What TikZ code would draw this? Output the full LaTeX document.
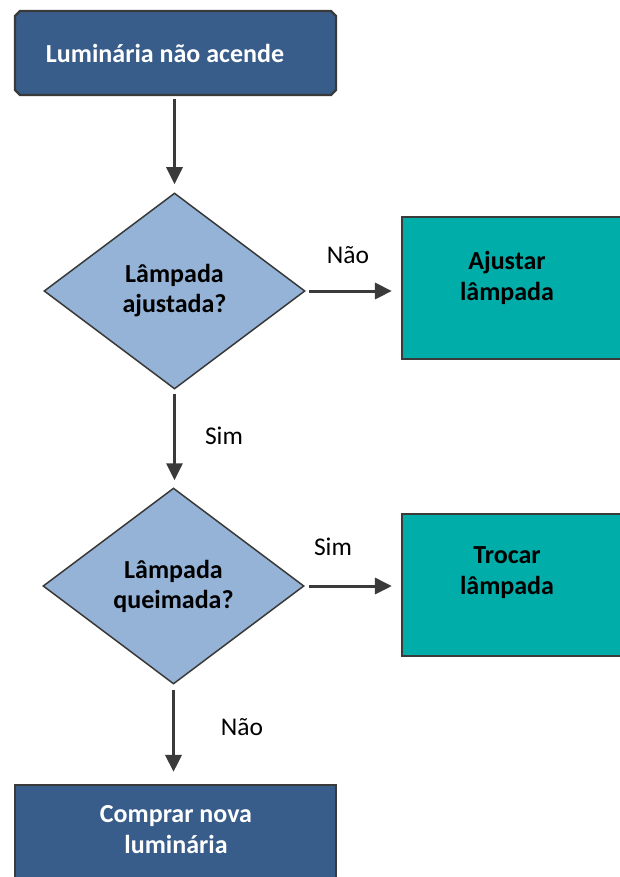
\documentclass[tikz,border=0pt]{standalone}
\usepackage{fontspec}
\setmainfont{Carlito}
\usetikzlibrary{arrows.meta,shapes.geometric,shapes.misc}
\definecolor{darkblue}{HTML}{385D8A}
\definecolor{lightblue}{HTML}{95B3D7}
\definecolor{tealbox}{HTML}{00ADA9}
\definecolor{edgecol}{HTML}{3A3A3A}
\begin{document}
\begin{tikzpicture}[x=1pt,y=-1pt,
 startbox/.style={chamfered rectangle, chamfered rectangle xsep=2.5pt, chamfered rectangle ysep=2.5pt, draw=edgecol, line width=2.2pt, fill=darkblue, minimum width=321pt, minimum height=84pt, inner sep=0pt, text=white, font=\bfseries\fontsize{26}{31}\selectfont, align=center},
 decision/.style={diamond, draw=edgecol, line width=1.5pt, fill=lightblue, minimum width=261pt, minimum height=196pt, inner sep=0pt, font=\bfseries\fontsize{26}{30}\selectfont, align=center, text=black},
 actionbox/.style={rectangle, draw=edgecol, line width=2.2pt, fill=tealbox, minimum width=260pt, minimum height=142pt, inner sep=0pt},
 boxtext/.style={font=\bfseries\fontsize{26}{31}\selectfont, align=center, inner sep=0pt},
 lbl/.style={font=\fontsize{25.5}{28}\selectfont, text=black, inner sep=0pt},
 conn/.style={draw=edgecol, line width=3pt, -{Triangle[length=17pt,width=16pt]}}
]
\useasboundingbox (0,0) rectangle (620,877);
\clip (0,0) rectangle (620,877);
\fill[white] (0,0) rectangle (620,877);

\node[startbox] (start) at (175.5,53) {Luminária não acende\hspace*{21pt}};
\node[decision] (d1) at (174.5,291) {Lâmpada\\ajustada?};
\node[actionbox] (a1) at (532,288) {};
\node[boxtext] (a1t) at (507,278) {Ajustar\\lâmpada};
\node[decision] (d2) at (173.5,586) {Lâmpada\\queimada?};
\node[actionbox] (a2) at (532,585) {};
\node[boxtext] (a2t) at (507,573) {Trocar\\lâmpada};
\node[startbox, minimum height=100pt] (finish) at (175.5,835) {};
\node[boxtext, text=white] (finisht) at (176,830) {Comprar nova\\luminária};

\draw[conn, shorten <=3pt, shorten >=8pt] (d1.north |- start.south) -- (d1.north);
\draw[conn, shorten <=3pt, shorten >=9pt] (d1.east) -- (d1.east -| a1.west);
\draw[conn, shorten <=4pt, shorten >=7pt] (d1.south) -- (d1.south |- d2.north);
\draw[conn, shorten <=4pt, shorten >=9pt] (d2.east) -- (d2.east -| a2.west);
\draw[conn, shorten <=5pt, shorten >=12pt] (d2.south) -- (d2.south |- finish.north);

\node[lbl] (l1) at (348,255) {Não};
\node[lbl] (l2) at (224,436) {Sim};
\node[lbl] (l3) at (333,547) {Sim};
\node[lbl] (l4) at (242,727) {Não};
\end{tikzpicture}
\end{document}
